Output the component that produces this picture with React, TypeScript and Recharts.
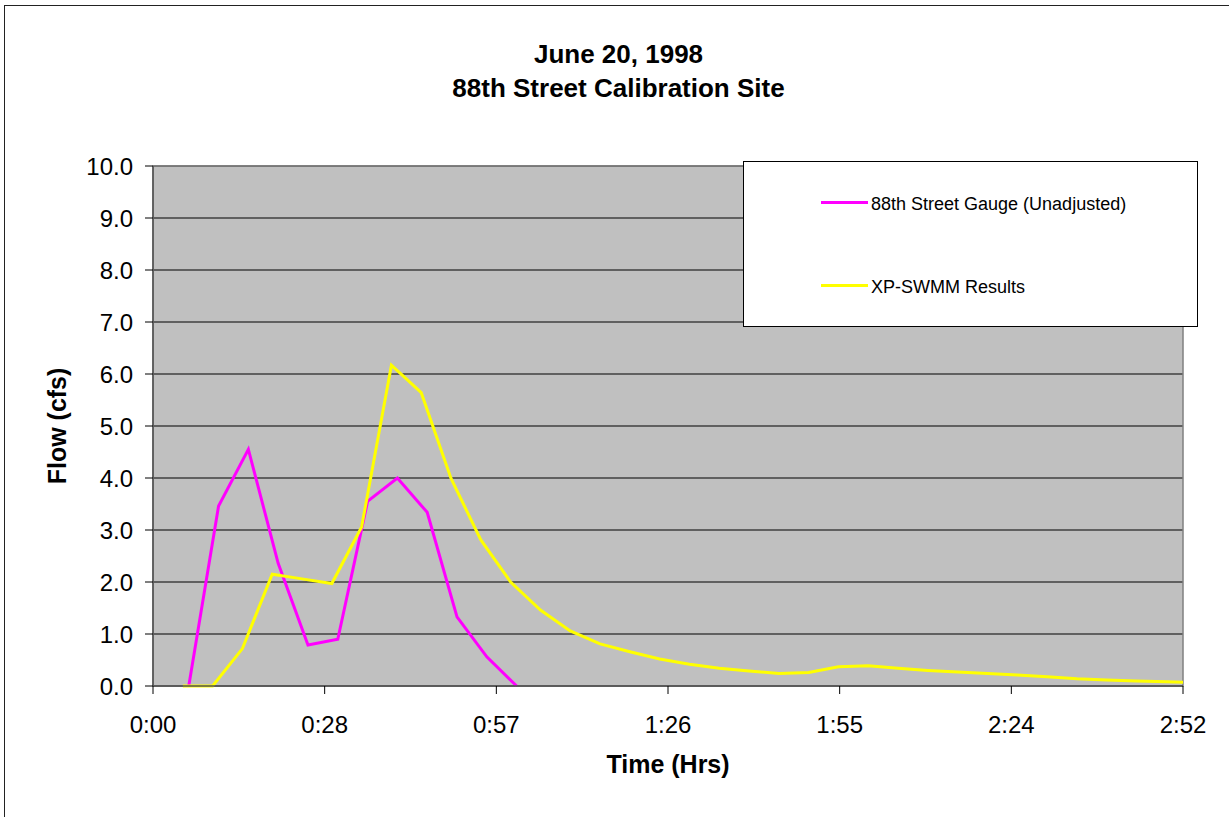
import {
  CartesianGrid,
  Label,
  Legend,
  Line,
  LineChart,
  ReferenceArea,
  XAxis,
  YAxis,
} from 'recharts';

// times in minutes from start, flows in cfs
const gaugeMinutes = [6, 11, 16, 21, 26, 31, 36, 41, 46, 51, 56, 61];
const gaugeFlow = [0, 3.46, 4.55, 2.36, 0.79, 0.9, 3.55, 4.0, 3.34, 1.33, 0.56, 0];

const modelMinutes = [
  5, 10, 15, 20, 25, 30, 35, 40, 45, 50, 55, 60, 65, 70, 75, 80, 85, 90,
  95, 100, 105, 110, 115, 120, 125, 130, 135, 140, 145, 150, 155, 160, 165, 170, 175,
];
const modelFlow = [
  0, 0, 0.72, 2.15, 2.06, 1.97, 3.06, 6.17, 5.64, 3.99, 2.81, 2.0, 1.46, 1.06, 0.81, 0.66,
  0.52, 0.42, 0.34, 0.29, 0.24, 0.26, 0.37, 0.39, 0.34, 0.3, 0.27, 0.24, 0.21, 0.18, 0.14,
  0.115, 0.095, 0.08, 0.07,
];

// excel time axis, in fractions of a day
const xTicks = [0, 0.02, 0.04, 0.06, 0.08, 0.1, 0.12];
const yTicks = [0, 1, 2, 3, 4, 5, 6, 7, 8, 9, 10];

const FONT = '"Liberation Sans", Arial, sans-serif';

const gaugeData = gaugeMinutes.map((m, i) => ({ t: m / 1440, flow: gaugeFlow[i] }));
const modelData = modelMinutes.map((m, i) => ({ t: m / 1440, flow: modelFlow[i] }));

function fmtTime(v: number) {
  const mins = Math.floor(v * 1440 + 1e-6);
  const h = Math.floor(mins / 60);
  const m = mins % 60;
  return `${h}:${m < 10 ? '0' : ''}${m}`;
}

function LegendBox({ payload }: any) {
  return (
    <div
      style={{
        position: 'relative',
        width: 455,
        height: 166,
        boxSizing: 'border-box',
        border: '1px solid #000',
        background: '#fff',
        fontFamily: FONT,
      }}
    >
      {(payload || []).map((entry: any, i: number) => (
        <div key={entry.value}>
          <div
            style={{
              position: 'absolute',
              left: 77,
              top: 39 + i * 82.6,
              width: 47,
              height: 3,
              background: entry.color,
            }}
          />
          <div
            style={{
              position: 'absolute',
              left: 127,
              top: 32 + i * 82.6,
              fontSize: 18,
              lineHeight: '20px',
              whiteSpace: 'nowrap',
              color: '#000',
            }}
          >
            {entry.value}
          </div>
        </div>
      ))}
    </div>
  );
}

export default function App() {
  return (
    <div
      style={{
        position: 'absolute',
        left: 0,
        top: 0,
        width: 1229,
        height: 817,
        overflow: 'hidden',
        background: '#fff',
        fontFamily: FONT,
      }}
    >
      <div
        style={{
          position: 'absolute',
          left: 4,
          top: 5,
          width: 1240,
          height: 830,
          border: '1.5px solid #222',
          boxSizing: 'border-box',
        }}
      />
      <div style={{ position: 'absolute', left: 0, top: 0 }}>
        <LineChart width={1229} height={817} margin={{ top: 166, right: 46, bottom: 0, left: 0 }}>
          <CartesianGrid vertical={false} stroke="#000" fill="#C0C0C0" />
          <ReferenceArea x1={0} x2={0.12} y1={0} y2={10} fill="#C0C0C0" fillOpacity={0} stroke="#808080" strokeWidth={1.5} />
          <XAxis
            dataKey="t"
            type="number"
            domain={[0, 0.12]}
            allowDataOverflow
            ticks={xTicks}
            interval={0}
            tickFormatter={fmtTime}
            height={131}
            tickSize={8}
            tickMargin={22}
            axisLine={{ stroke: '#505050', strokeWidth: 1.5 }}
            tickLine={{ stroke: '#000' }}
            tick={{ fill: '#000', fontSize: 24, fontFamily: FONT }}
          >
            <Label
              content={() => (
                <text x={668} y={773} textAnchor="middle" fontSize={25} fontWeight="bold" fontFamily={FONT} fill="#000">
                  Time (Hrs)
                </text>
              )}
            />
          </XAxis>
          <YAxis
            type="number"
            domain={[0, 10]}
            ticks={yTicks}
            interval={0}
            tickFormatter={(v: number) => v.toFixed(1)}
            width={153}
            tickSize={8}
            tickMargin={12}
            axisLine={{ stroke: '#505050', strokeWidth: 1.5 }}
            tickLine={{ stroke: '#000' }}
            tick={{ fill: '#000', fontSize: 24, fontFamily: FONT }}
          >
            <Label
              content={() => (
                <text
                  x={57}
                  y={426}
                  transform="rotate(-90 57 426)"
                  textAnchor="middle"
                  dominantBaseline="central"
                  fontSize={25}
                  fontWeight="bold"
                  fontFamily={FONT}
                  fill="#000"
                >
                  Flow (cfs)
                </text>
              )}
            />
          </YAxis>
          <Legend
            layout="horizontal"
            verticalAlign="middle"
            align="center"
            wrapperStyle={{ left: 743, top: 161, width: 455, height: 166 }}
            content={(props: any) => <LegendBox payload={props.payload} />}
          />
          <Line
            data={gaugeData}
            dataKey="flow"
            name="88th Street Gauge (Unadjusted)"
            type="linear"
            stroke="#FF00FF"
            strokeWidth={3}
            dot={false}
            isAnimationActive={false}
          />
          <Line
            data={modelData}
            dataKey="flow"
            name="XP-SWMM Results"
            type="linear"
            stroke="#FFFF00"
            strokeWidth={3}
            dot={false}
            isAnimationActive={false}
          />
        </LineChart>
      </div>
      <div
        style={{
          position: 'absolute',
          left: 0,
          top: 37,
          width: 1237,
          textAlign: 'center',
          fontWeight: 'bold',
          fontSize: 26,
          lineHeight: '34px',
          color: '#000',
        }}
      >
        June 20, 1998
        <br />
        88th Street Calibration Site
      </div>
    </div>
  );
}
